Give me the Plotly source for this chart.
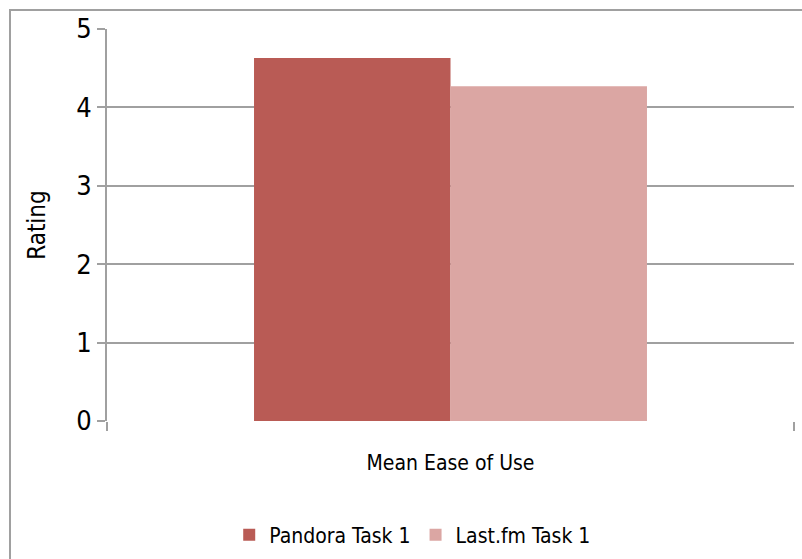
import plotly.graph_objects as go

categories = ["Mean Ease of Use"]
series_names = ["Pandora Task 1", "Last.fm Task 1"]
pandora_values = [4.63]
lastfm_values = [4.27]
y_ticks = [0, 1, 2, 3, 4, 5]
colors = ["#B95B55", "#DBA6A3"]

FONT = "DejaVu Sans Condensed"
W, H = 802, 559
L, R, T, B = 107, 8, 29, 138

fig = go.Figure()
fig.add_trace(go.Bar(x=categories, y=pandora_values, name=series_names[0],
                     marker=dict(color=colors[0], line=dict(width=0))))
fig.add_trace(go.Bar(x=categories, y=lastfm_values, name=series_names[1],
                     marker=dict(color=colors[1], line=dict(width=0))))

pw = W - L - R
ph = H - T - B
fig.add_shape(type="rect", xref="paper", yref="paper",
              x0=(10 - L) / pw, x1=(W + 20 - L) / pw,
              y0=-(H + 20 - T - ph) / ph, y1=1 + (T - 10) / ph,
              line=dict(color="#a0a0a0", width=2), layer="below")

fig.update_layout(
    width=W, height=H,
    margin=dict(l=L, r=R, t=T, b=B, autoexpand=False),
    paper_bgcolor="white", plot_bgcolor="white",
    barmode="group", bargap=0.428, bargroupgap=0,
    font=dict(family=FONT, color="black", size=21),
    showlegend=True,
    legend=dict(orientation="h", x=0.445, xanchor="center",
                yref="container", y=1 - 535 / H, yanchor="middle",
                font=dict(size=21, family=FONT), itemwidth=30, traceorder="normal"),
    xaxis=dict(
        type="category", showline=False, ticks="outside", tickson="boundaries",
        ticklen=9, tickcolor="#a0a0a0", tickwidth=2, automargin=False,
        showgrid=False, ticklabelstandoff=27,
        tickfont=dict(size=21, family=FONT),
    ),
    yaxis=dict(
        range=[0, 5], tickvals=y_ticks, ticks="outside", ticklen=8,
        tickcolor="#a0a0a0", tickwidth=2, automargin=False,
        showline=True, linecolor="#a0a0a0", linewidth=2,
        showgrid=True, gridcolor="#a0a0a0", gridwidth=2,
        zeroline=False,
        title=dict(text="Rating", font=dict(size=24, family=FONT), standoff=24),
        tickfont=dict(size=27, family=FONT),
    ),
)
fig.write_html("out.html")
